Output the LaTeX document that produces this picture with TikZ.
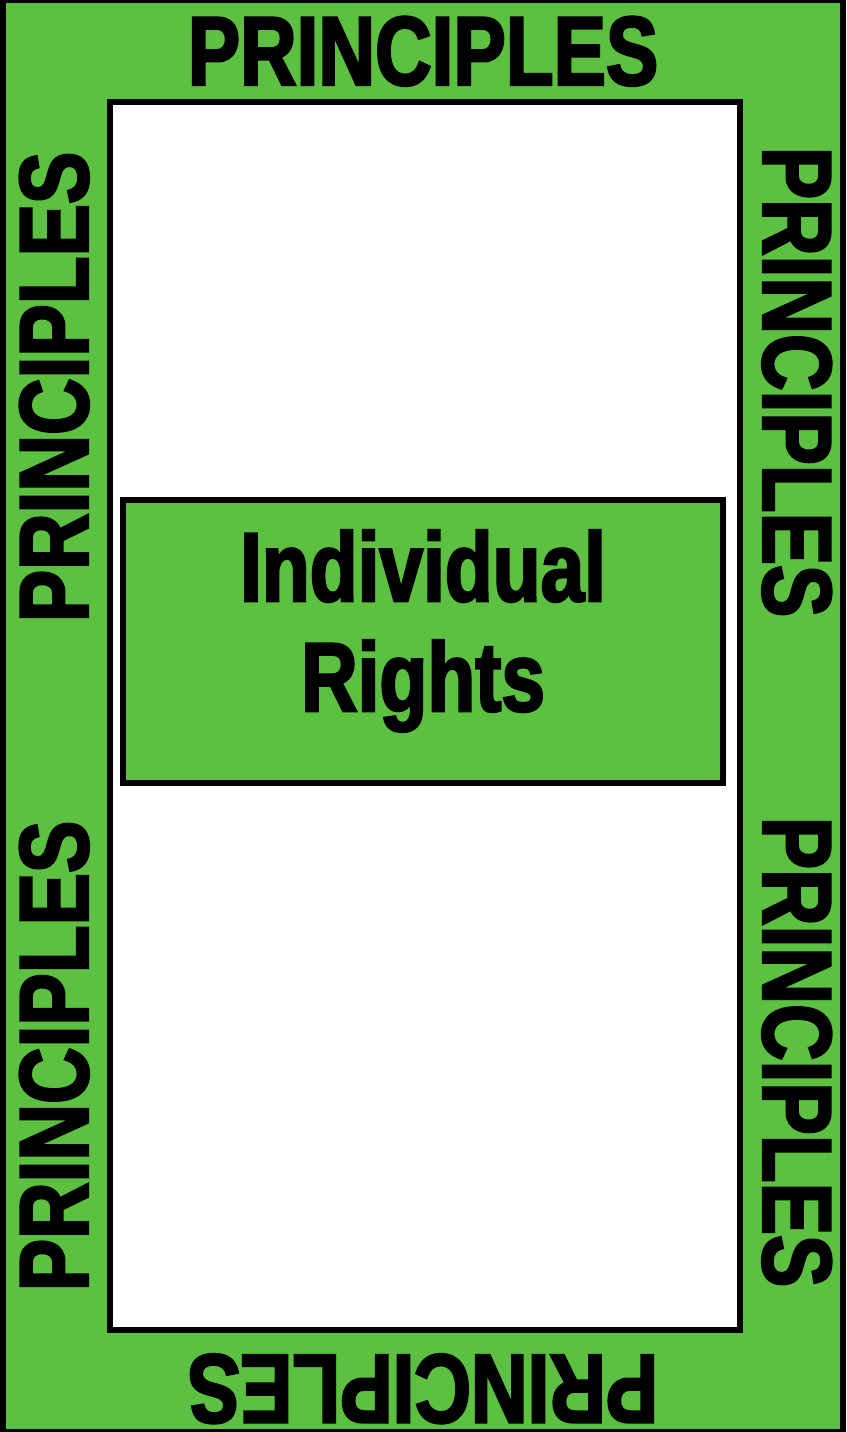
\documentclass[tikz,border=0pt]{standalone}
\usepackage{fontspec}
\newfontfamily\narrowsans[FakeStretch=0.8,FakeBold=2.5]{Liberation Sans}
\usetikzlibrary{positioning}
\definecolor{boardgreen}{RGB}{92,192,64}

\begin{document}
\begin{tikzpicture}[x=1pt,y=-1pt,
    outerframe/.style={draw,fill=boardgreen,line width=6pt},
    innerfield/.style={draw,fill=white,line width=6pt},
    rightsbox/.style={draw,fill=boardgreen,line width=5.5pt,minimum width=600pt,
                      minimum height=283pt,inner sep=0pt},
    word/.style={font=\narrowsans\bfseries\fontsize{98}{110}\selectfont,
                 inner sep=0pt,anchor=base},
]

% ---- Page size -----------------------------------------------------------
\useasboundingbox (0,0) rectangle (846,1432);

% ---- Frame and field -----------------------------------------------------
\draw[outerframe] (3,0) rectangle (843,1432);
\draw[innerfield] (110,101.5) rectangle (740,1330);

% ---- Centre box ----------------------------------------------------------
\node[rightsbox] (rights) at (423,641.5) {};
\node[word,anchor=center,align=center] (rightstext) at (423,631)
    {Individual\\Rights};

% ---- Border words --------------------------------------------------------
\node[word] (wordtop) at (423,85) {PRINCIPLES};
\node[word,rotate=180] (wordbottom) at (423,1355) {PRINCIPLES};
\foreach \y/\n in {387/a, 1056/b}
{
    \node[word,rotate=90] (wordleft\n) at (88,\y) {PRINCIPLES};
}
\foreach \y/\n in {382/a, 1052/b}
{
    \node[word,rotate=-90] (wordright\n) at (763,\y) {PRINCIPLES};
}

\end{tikzpicture}
\end{document}
